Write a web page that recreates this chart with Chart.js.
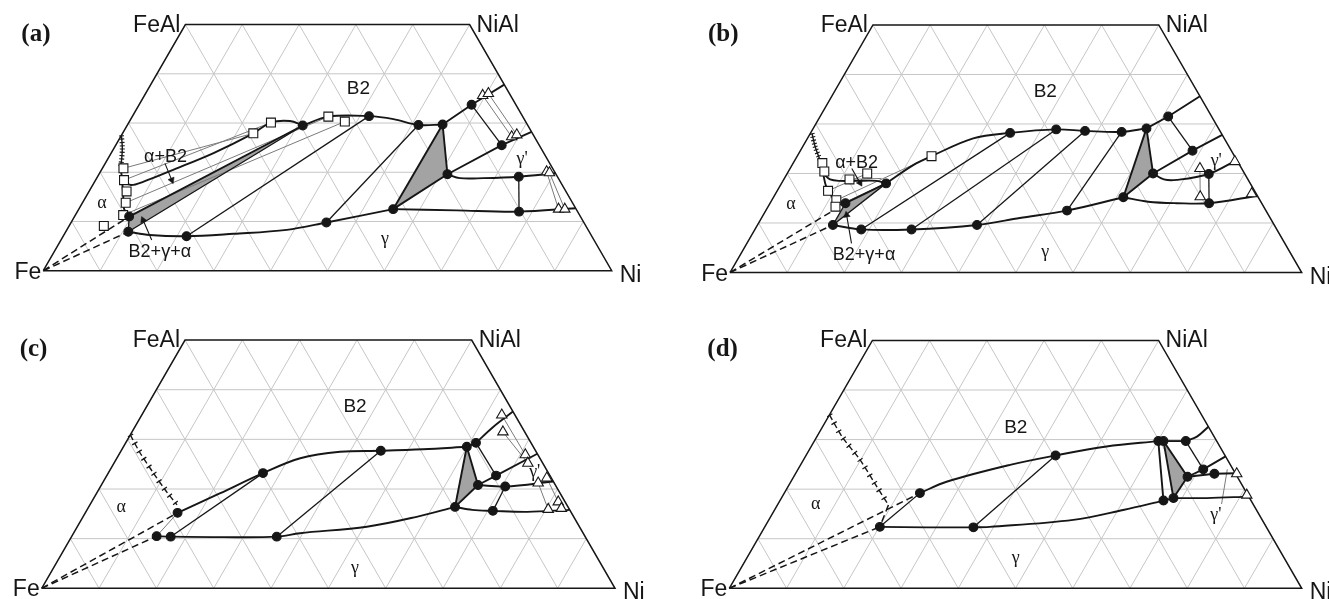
<!DOCTYPE html>
<html>
<head>
<meta charset="utf-8">
<script src="https://cdn.jsdelivr.net/npm/chart.js@4/dist/chart.umd.min.js"></script>
<style>
  body { margin: 0; background: #fff; width: 1329px; height: 599px; position: relative; overflow: hidden; }
  canvas { position: absolute; }
</style>
</head>
<body>
<script>

var gridSteps = [10, 20, 30, 40, 50, 60, 70, 80, 90];

// ---- (a) ----
var aDots = [[9.6,11.0],[11.0,7.9],[21.7,7.0],[44.9,9.8],[30.9,29.5],[41.6,31.4],[51.2,29.6],[55.4,29.7],
  [58.5,33.7],[67.9,25.5],[61.3,19.6],[74.1,19.1],[55.3,12.5],[77.7,12.0]];
var aSquares = [[3.7,20.8],[5.0,18.4],[6.6,16.1],[7.6,13.8],[8.4,11.3],[6.1,9.1],[23.0,27.9],[25.0,30.1],[34.5,31.3],[37.9,30.3]];
var aTriangles = [[59.5,35.6],[60.3,36.0],[68.8,27.2],[69.5,27.6],[78.5,20.1],[79.1,19.9],[84.4,12.5],[85.5,12.5]];
var aCurves = [
  [[4.9,18.3],[6.7,17.4],[8.6,18.1],[12.6,20.5],[18.0,23.9],[23.0,27.9],[25.0,30.1],[28.2,30.4],[30.9,29.5]],
  [[30.9,29.5],[34.5,31.3],[41.6,31.4],[46.2,30.8],[51.2,29.6],[55.4,29.7]],
  [[11.0,7.9],[15.1,7.25],[21.7,7.0],[29.7,7.5],[38.7,8.3],[44.9,9.8],[55.3,12.5]],
  [[55.3,12.5],[66.5,12.25],[77.7,12.0],[87.3,12.7]],
  [[61.3,19.6],[63.9,18.8],[68.0,18.8],[74.1,19.1],[80.2,19.8]],
  [[3.05,21.1],[4.6,18.5],[6.3,15.5],[7.9,12.6],[9.6,11.0]]
];
var aStraight = [
  [[55.4,29.7],[58.5,33.7],[62.2,37.8]],
  [[61.3,19.6],[67.9,25.5],[71.8,28.2]],
  [[55.4,29.7],[61.3,19.6]], [[55.3,12.5],[61.3,19.6]], [[55.4,29.7],[55.3,12.5]],
  [[9.6,11.0],[30.9,29.5]]
];
var aTies = [[[21.7,7.0],[41.6,31.4]], [[44.9,9.8],[51.2,29.6]], [[58.5,33.7],[67.9,25.5]],
  [[74.1,19.1],[77.7,12.0]], [[11.0,7.9],[30.9,29.5]], [[9.6,11.0],[11.0,7.9]]];
var aThin = [[[3.7,20.8],[23.0,27.9]], [[5.0,18.4],[25.0,30.1]], [[7.6,13.8],[34.5,31.3]], [[8.4,11.3],[37.9,30.3]],
  [[59.5,35.6],[68.8,27.2]], [[60.3,36.0],[69.5,27.6]], [[78.5,20.1],[84.4,12.5]], [[79.1,19.9],[85.5,12.5]]];
var aDashed = [[[0,0],[9.6,11.0]], [[0,0],[11.0,7.9]]];
var aHatch = [[0,27.5],[1.4,25.0],[2.4,22.8],[3.05,21.1]];
var aTick = [];
var aGray = [[[9.6,11.0],[11.0,7.9],[30.9,29.5]], [[55.4,29.7],[55.3,12.5],[61.3,19.6]]];
var aLeaders = [[[10.5,21.8],[13.4,18.4]], [[15.95,6.24],[12.4,10.3]]];
var aLabels = [['B2',37.0,36.9],['α+B2',9.95,23.1],['α',3.45,13.75],['B2+γ+α',18.6,3.8],['γ',56.9,6.4],["γ'",72.9,22.7]];

// ---- (b) ----
var bDots = [[13.2,9.6],[13.2,14.0],[18.6,8.7],[18.3,18.0],[27.4,8.7],[38.4,9.6],[34.9,28.2],[42.6,28.9],[47.8,28.6],
  [54.3,28.4],[58.3,29.1],[60.9,31.5],[68.6,24.6],[64.0,20.0],[61.2,15.2],[52.7,12.5],[73.8,19.9],[76.8,14.0]];
var bSquares = [[5.1,22.1],[6.3,20.4],[8.9,16.5],[11.3,14.6],[11.8,13.3],[11.5,18.8],[14.0,20.0],[23.5,23.5]];
var bTriangles = [[71.7,21.0],[74.6,15.3],[77.1,22.4],[83.3,15.9]];
var bCurves = [
  [[6.6,19.8],[8.1,18.8],[10.0,18.5],[12.9,18.5],[16.4,18.5],[18.3,18.0]],
  [[18.3,18.0],[21.2,21.7],[23.5,23.5],[29.0,27.1],[34.9,28.2],[42.6,28.9],[47.8,28.6],[54.3,28.4],[58.3,29.1]],
  [[13.2,9.6],[18.6,8.7],[27.4,8.7],[38.4,9.6],[45.2,11.0],[52.7,12.5],[61.2,15.2]],
  [[61.2,15.2],[66.0,14.3],[71.1,14.0],[76.8,14.0],[84.5,15.5]],
  [[64.0,20.0],[66.5,18.8],[68.8,18.7],[73.8,19.9],[77.3,22.7]],
  [[4.4,22.7],[5.6,21.2],[6.5,19.7],[8.2,17.3],[10.6,15.0],[13.2,14.0]]
];
var bStraight = [
  [[58.3,29.1],[60.9,31.5],[64.4,35.6]],
  [[64.0,20.0],[68.6,24.6],[72.2,27.8]],
  [[58.3,29.1],[61.2,15.2]], [[58.3,29.1],[64.0,20.0]], [[61.2,15.2],[64.0,20.0]],
  [[13.2,14.0],[18.3,18.0]]
];
var bTies = [[[18.6,8.7],[34.9,28.2]], [[27.4,8.7],[42.6,28.9]], [[38.4,9.6],[47.8,28.6]], [[52.7,12.5],[54.3,28.4]],
  [[60.9,31.5],[68.6,24.6]], [[73.8,19.9],[76.8,14.0]], [[13.2,9.6],[18.3,18.0]], [[13.2,9.6],[13.2,14.0]]];
var bThin = [[[8.9,16.5],[14.0,20.0]], [[11.3,14.6],[23.5,23.5]], [[11.8,13.3],[18.3,18.0]], [[11.5,18.8],[17.0,19.0]],
  [[71.7,21.0],[74.6,15.3]]];
var bDashed = [[[0,0],[13.2,14.0]], [[0,0],[13.2,9.6]]];
var bHatch = [[0.3,28.1],[2.2,25.4],[4.4,22.7]];
var bTick = [];
var bGray = [[[13.2,14.0],[13.2,9.6],[18.3,18.0]], [[58.3,29.1],[61.2,15.2],[64.0,20.0]]];
var bLeaders = [[[10.8,21.0],[13.7,18.1]], [[18.3,5.9],[14.6,11.6]]];
var bLabels = [['B2',36.9,36.5],['α+B2',11.1,22.1],['α',3.75,13.8],['B2+γ+α',21.7,3.5],['γ',53.1,4.1],["γ'",73.8,22.5]];

// ---- (c) ----
var cDots = [[16.1,15.2],[14.8,10.5],[17.3,10.4],[35.8,10.4],[27.0,23.2],[45.3,27.7],[59.9,28.5],[61.1,29.3],
  [67.9,22.7],[65.7,20.8],[70.6,20.5],[63.9,16.4],[70.9,15.6]];
var cSquares = [];
var cTriangles = [[62.8,34.9],[64.7,31.5],[70.9,26.9],[72.2,25.2],[76.0,21.2],[77.0,22.2],[80.4,15.9],[81.4,17.4],[82.6,16.1]];
var cCurves = [
  [[16.1,15.2],[21.5,19.1],[27.0,23.2],[32.0,26.2],[38.3,27.5],[45.3,27.7],[52.5,28.0],[59.9,28.5]],
  [[14.8,10.5],[17.3,10.4],[26.5,10.3],[35.8,10.4],[39.5,11.1],[50.5,12.4],[58.2,14.4],[63.9,16.4]],
  [[63.9,16.4],[67.2,15.8],[70.9,15.6],[77.0,15.4],[84.2,15.8]],
  [[61.1,29.3],[62.5,32.5],[64.4,35.6]],
  [[65.7,20.8],[70.6,20.5],[78.5,21.5]]
];
var cStraight = [[[59.9,28.5],[61.1,29.3]], [[65.7,20.8],[67.9,22.7],[72.9,27.1]],
  [[59.9,28.5],[63.9,16.4]], [[59.9,28.5],[65.7,20.8]], [[63.9,16.4],[65.7,20.8]]];
var cTies = [[[17.3,10.4],[27.0,23.2]], [[35.8,10.4],[45.3,27.7]], [[61.1,29.3],[67.9,22.7]], [[70.6,20.5],[70.9,15.6]]];
var cThin = [[[16.1,15.2],[14.8,10.5]], [[62.8,34.9],[70.9,26.9]], [[64.7,31.5],[72.2,25.2]],
  [[76.0,21.2],[80.4,15.9]], [[77.0,22.2],[82.6,16.1]]];
var cDashed = [[[0,0],[16.1,15.2]], [[0,0],[14.8,10.5]]];
var cHatch = [];
var cTick = [[0,30.9],[3.5,27.3],[7.9,23.2],[12.0,19.5],[15.2,16.8]];
var cGray = [[[59.9,28.5],[63.9,16.4],[65.7,20.8]]];
var cLeaders = [];
var cLabels = [['B2',36.4,36.5],['α',5.7,16.3],['γ',52.6,4.1],["γ'",74.3,23.4]];

// ---- (d) ----
var dDots = [[20.1,12.4],[23.7,19.2],[36.5,12.3],[43.6,26.8],[60.1,29.7],[61.0,29.7],[64.9,29.7],[70.8,24.0],
  [73.2,23.1],[68.8,22.5],[67.0,17.7],[68.5,18.2]];
var dSquares = [];
var dTriangles = [[77.1,23.1],[81.0,18.8]];
var dCurves = [
  [[23.7,19.2],[27.2,21.5],[36.6,24.9],[43.6,26.8],[51.6,28.6],[60.1,29.7]],
  [[20.1,12.4],[28.3,12.3],[36.5,12.3],[39.3,12.4],[53.2,13.8],[60.9,15.8],[67.0,17.7]],
  [[68.5,18.2],[74.3,18.2],[81.4,18.5]],
  [[64.9,29.7],[66.4,30.6],[67.4,32.6]]
];
var dStraight = [[[60.1,29.7],[64.9,29.7]], [[60.1,29.7],[67.0,17.7]], [[61.0,29.7],[68.5,18.2]], [[67.0,17.7],[68.5,18.2]],
  [[61.0,29.7],[68.8,22.5]], [[68.5,18.2],[68.8,22.5]], [[68.8,22.5],[70.8,24.0],[73.4,26.6]], [[68.8,22.5],[73.2,23.1],[77.0,23.2]]];
var dTies = [[[20.1,12.4],[23.7,19.2]], [[36.5,12.3],[43.6,26.8]], [[64.9,29.7],[70.8,24.0]]];
var dThin = [[[77.5,17.0],[75.0,24.0]]];
var dDashed = [[[0,0],[23.7,19.2]], [[0,0],[20.1,12.4]], [[19.4,16.8],[20.1,12.4]]];
var dHatch = [];
var dTick = [[0,35.0],[4.5,30.5],[9.9,25.9],[15.0,21.0],[19.4,16.8]];
var dGray = [[[61.0,29.7],[68.5,18.2],[68.8,22.5]]];
var dLeaders = [];
var dLabels = [['B2',33.9,32.3],['α',6.6,17.0],['γ',47.0,6.1],["γ'",77.6,14.8]];

var INK = '#161616';
var GRID = '#c6c6c6';
var SHADE = '#a3a3a3';
var THIN = '#7a7a7a';

// ternary -> cartesian: x along Fe-Ni base, y = at.% Al (scales keep the 60 deg geometry)
function toXY(p) { return { x: p[0] + p[1] / 2, y: p[1] }; }

function lineDs(pts, o) {
  return Object.assign({
    data: pts.map(toXY), showLine: true, pointRadius: 0, pointHoverRadius: 0,
    borderColor: INK, borderWidth: 1.5, tension: 0, fill: false, clip: false, order: 4
  }, o || {});
}

function markDs(pts, style, r, bg, o) {
  return Object.assign({
    data: pts.map(toXY), showLine: false, pointStyle: style, pointRadius: r, pointHoverRadius: r,
    pointBackgroundColor: bg, pointBorderColor: INK, pointBorderWidth: 1.1, borderColor: INK,
    clip: false, order: 1
  }, o || {});
}

function gridLines() {
  var out = [];
  gridSteps.forEach(function(v) {
    if (v < 50) out.push([[0, v], [100 - v, v]]);
    out.push([[v, 0], [v, Math.min(50, 100 - v)]]);
    var s = 100 - v;
    out.push([[s, 0], [Math.max(s - 50, 0), Math.min(s, 50)]]);
  });
  return out;
}

function textPlugin(g, labels) {
  return {
    id: 'phaseText',
    afterDatasetsDraw: function(chart) {
      var ctx = chart.ctx, xs = chart.scales.x, ys = chart.scales.y;
      function P(ni, al) { return [xs.getPixelForValue(ni + al / 2), ys.getPixelForValue(al)]; }
      ctx.save();
      ctx.fillStyle = INK;
      ctx.textBaseline = 'alphabetic';
      ctx.font = '23px "Liberation Sans", Arial, sans-serif';
      var p = P(0, 50);
      ctx.textAlign = 'right'; ctx.fillText('FeAl', p[0] - 5, p[1] + 7);
      p = P(50, 50);
      ctx.textAlign = 'left'; ctx.fillText('NiAl', p[0] + 7, p[1] + 7);
      p = P(0, 0);
      ctx.textAlign = 'right'; ctx.fillText('Fe', p[0] - 2, p[1] + 8);
      p = P(100, 0);
      ctx.textAlign = 'left'; ctx.fillText('Ni', p[0] + 8, p[1] + 11);
      ctx.font = 'bold 25px "Liberation Serif", "Times New Roman", serif';
      ctx.fillText(g.tag, P(0, 0)[0] - 22, P(0, 50)[1] + 16);

      ctx.textAlign = 'center'; ctx.textBaseline = 'middle';
      labels.forEach(function(l) {
        if (l[0] === 'B2') ctx.font = '19px "Liberation Sans", Arial, sans-serif';
        else if (l[0].length > 2) ctx.font = '18px "Liberation Sans", Arial, sans-serif';
        else ctx.font = '18px "Liberation Serif", "Times New Roman", serif';
        var q = P(l[1], l[2]);
        ctx.fillText(l[0], q[0], q[1]);
      });
      ctx.restore();
    }
  };
}

function makePanel(g, d) {
  var cv = document.createElement('canvas');
  cv.width = g.w; cv.height = g.h;
  cv.style.left = g.left + 'px'; cv.style.top = g.top + 'px';
  document.body.appendChild(cv);

  var ds = [];
  gridLines().forEach(function(l) { ds.push(lineDs(l, { borderColor: GRID, borderWidth: 1, order: 9 })); });
  ds.push(lineDs([[0,0],[100,0],[50,50],[0,50],[0,0]], { borderWidth: 1.5, order: 3 }));
  d.gray.forEach(function(t) {
    ds.push(lineDs(t.concat([t[0]]), { fill: 'shape', backgroundColor: SHADE, borderWidth: 0.5, borderColor: SHADE, order: 8 }));
  });
  d.thin.forEach(function(l) { ds.push(lineDs(l, { borderColor: THIN, borderWidth: 1, order: 6 })); });
  d.dashed.forEach(function(l) { ds.push(lineDs(l, { borderWidth: 1.5, borderDash: [7, 4], order: 5 })); });
  d.ties.forEach(function(l) { ds.push(lineDs(l, { borderWidth: 1.3, order: 5 })); });
  d.straight.forEach(function(l) { ds.push(lineDs(l, { borderWidth: 1.9 })); });
  d.curves.forEach(function(l) { ds.push(lineDs(l, { borderWidth: 1.9, tension: 0.35 })); });
  if (d.hatch.length) {
    ds.push(lineDs(d.hatch, { borderWidth: 1.4, tension: 0.3 }));
    ds.push(lineDs(d.hatch, { borderWidth: 5, borderDash: [1.1, 2.2], tension: 0.3 }));
  }
  if (d.tick.length) {
    ds.push(lineDs(d.tick, { borderWidth: 1.4, borderDash: [6, 3], tension: 0.3 }));
    ds.push(lineDs(d.tick, { borderWidth: 6, borderDash: [1.3, 7.7], tension: 0.3 }));
  }
  d.leaders.forEach(function(l) {
    ds.push(lineDs(l, { borderWidth: 1.1 }));
    var a = toXY(l[0]), b = toXY(l[1]);
    var dx = (b.x - a.x) * g.side / 100, dy = -(b.y - a.y) * g.side * Math.sqrt(3) / 200;
    var rot = Math.atan2(dx, -dy) * 180 / Math.PI;
    ds.push(markDs([l[1]], 'triangle', 3.8, INK, { pointRotation: rot, pointBorderWidth: 0.5 }));
  });
  ds.push(markDs(d.squares, 'rect', 6.3, '#fff'));
  ds.push(markDs(d.triangles, 'triangle', 6, '#fff'));
  ds.push(markDs(d.dots, 'circle', 4.4, INK, { order: 0 }));

  new Chart(cv, {
    type: 'line',
    data: { datasets: ds },
    options: {
      responsive: false, animation: false, events: [], devicePixelRatio: 1,
      layout: { padding: {
        left: g.fx - g.left,
        right: g.left + g.w - g.fx - g.side,
        top: g.fy - g.side * Math.sqrt(3) / 4 - g.top,
        bottom: g.top + g.h - g.fy
      } },
      scales: {
        x: { type: 'linear', min: 0, max: 100, display: false },
        y: { type: 'linear', min: 0, max: 50, display: false }
      },
      plugins: { legend: { display: false }, tooltip: { enabled: false } }
    },
    plugins: [textPlugin(g, d.labels)]
  });
}

makePanel({ tag: '(a)', left: 0, top: 0, w: 664, h: 299, fx: 43.3, fy: 270.7, side: 568.4 },
  { dots: aDots, squares: aSquares, triangles: aTriangles, curves: aCurves, straight: aStraight, ties: aTies,
    thin: aThin, dashed: aDashed, hatch: aHatch, tick: aTick, gray: aGray, leaders: aLeaders, labels: aLabels });
makePanel({ tag: '(b)', left: 664, top: 0, w: 665, h: 299, fx: 730, fy: 272.5, side: 571.7 },
  { dots: bDots, squares: bSquares, triangles: bTriangles, curves: bCurves, straight: bStraight, ties: bTies,
    thin: bThin, dashed: bDashed, hatch: bHatch, tick: bTick, gray: bGray, leaders: bLeaders, labels: bLabels });
makePanel({ tag: '(c)', left: 0, top: 299, w: 664, h: 300, fx: 41.7, fy: 588.3, side: 573.3 },
  { dots: cDots, squares: cSquares, triangles: cTriangles, curves: cCurves, straight: cStraight, ties: cTies,
    thin: cThin, dashed: cDashed, hatch: cHatch, tick: cTick, gray: cGray, leaders: cLeaders, labels: cLabels });
makePanel({ tag: '(d)', left: 664, top: 299, w: 665, h: 300, fx: 729.3, fy: 588.3, side: 572.4 },
  { dots: dDots, squares: dSquares, triangles: dTriangles, curves: dCurves, straight: dStraight, ties: dTies,
    thin: dThin, dashed: dDashed, hatch: dHatch, tick: dTick, gray: dGray, leaders: dLeaders, labels: dLabels });
</script>
</body>
</html>
